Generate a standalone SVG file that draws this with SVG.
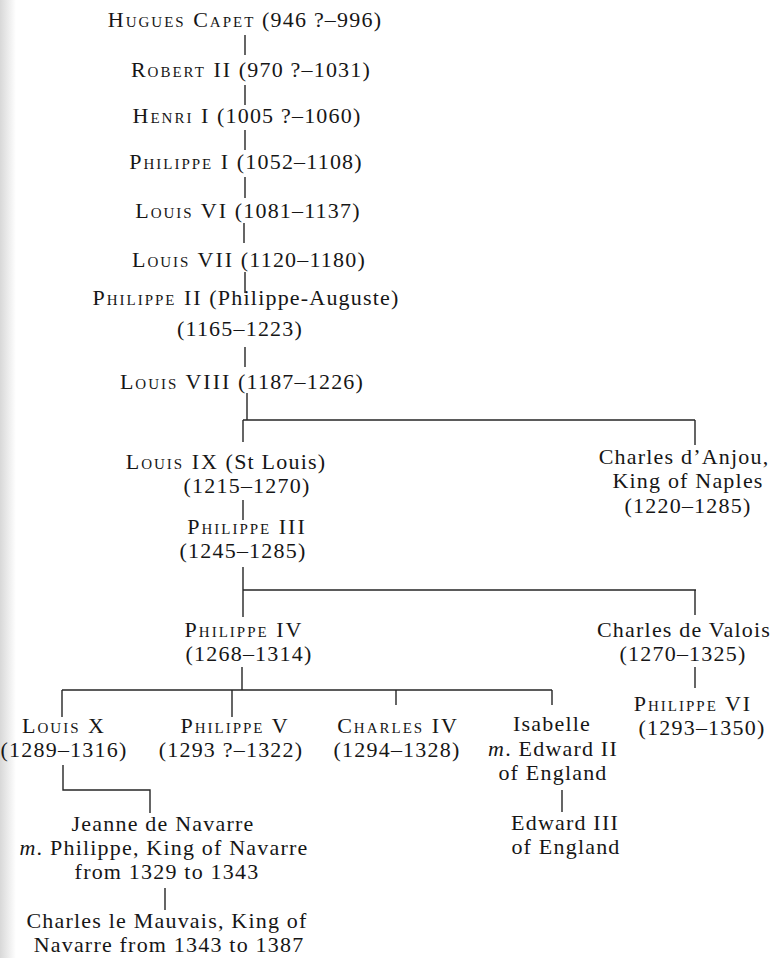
<svg xmlns="http://www.w3.org/2000/svg" width="778" height="958" viewBox="0 0 778 958">
<style>
.t{font-family:"Liberation Serif","Times New Roman",serif;font-size:22px;fill:#161616;text-anchor:middle;letter-spacing:1.2px}
.sc{font-variant:small-caps;letter-spacing:2px}
.i{font-style:italic}
#connectors path{stroke:#262626;stroke-width:1.4;fill:none}
</style>
<defs>
<linearGradient id="edge" x1="0" y1="0" x2="1" y2="0">
<stop offset="0" stop-color="#d8d8d8"/>
<stop offset="1" stop-color="#ffffff"/>
</linearGradient>
</defs>
<rect width="778" height="958" fill="#fff"/>
<rect width="16" height="958" fill="url(#edge)"/>
<g id="connectors">
<path d="M245 35V55M245 85V105M245 130V150M245 177V198M244 223V243M245 272V293M245 347V367"/>
<path d="M247 393V420M243 420H695M243 420V442M695 420V445"/>
<path d="M243 500V520M243 567V590M243 590H696M243 590V617M695 590V615M695 667V688"/>
<path d="M242 667V690M62 690H552M62 690V717M232 690V717M396 690V705M552 690V705"/>
<path d="M63 765V790H150V813M165 888V910M562 790V812"/>
</g>
<g id="hugues"><text class="t" x="245" y="27"><tspan class="sc">Hugues Capet</tspan> (946 ?–996)</text></g>
<g id="robert2"><text class="t" x="251" y="77"><tspan class="sc">Robert II</tspan> (970 ?–1031)</text></g>
<g id="henri1"><text class="t" x="247" y="123"><tspan class="sc">Henri I</tspan> (1005 ?–1060)</text></g>
<g id="philippe1"><text class="t" x="246" y="169"><tspan class="sc">Philippe I</tspan> (1052–1108)</text></g>
<g id="louis6"><text class="t" x="248" y="218"><tspan class="sc">Louis VI</tspan> (1081–1137)</text></g>
<g id="louis7"><text class="t" x="249" y="267"><tspan class="sc">Louis VII</tspan> (1120–1180)</text></g>
<g id="philippe2"><text class="t" x="246" y="305"><tspan class="sc">Philippe II</tspan> (Philippe-Auguste)</text><text class="t" x="240" y="336">(1165–1223)</text></g>
<g id="louis8"><text class="t" x="242" y="389"><tspan class="sc">Louis VIII</tspan> (1187–1226)</text></g>
<g id="louis9"><text class="t" x="226" y="469"><tspan class="sc">Louis IX</tspan> (St Louis)</text><text class="t" x="247" y="493">(1215–1270)</text></g>
<g id="charlesanjou"><text class="t" x="684" y="464">Charles d’Anjou,</text><text class="t" x="688" y="488">King of Naples</text><text class="t" x="688" y="513">(1220–1285)</text></g>
<g id="philippe3"><text class="t" x="247" y="534"><tspan class="sc">Philippe III</tspan></text><text class="t" x="243" y="558">(1245–1285)</text></g>
<g id="philippe4"><text class="t" x="244" y="637"><tspan class="sc">Philippe IV</tspan></text><text class="t" x="249" y="661">(1268–1314)</text></g>
<g id="charlesvalois"><text class="t" x="684" y="637">Charles de Valois</text><text class="t" x="683" y="661">(1270–1325)</text></g>
<g id="philippe6"><text class="t" x="693" y="711"><tspan class="sc">Philippe VI</tspan></text><text class="t" x="702" y="735">(1293–1350)</text></g>
<g id="louis10"><text class="t" x="64" y="733"><tspan class="sc">Louis X</tspan></text><text class="t" x="64" y="757">(1289–1316)</text></g>
<g id="philippe5"><text class="t" x="235" y="733"><tspan class="sc">Philippe V</tspan></text><text class="t" x="231" y="757">(1293 ?–1322)</text></g>
<g id="charles4"><text class="t" x="398" y="733"><tspan class="sc">Charles IV</tspan></text><text class="t" x="397" y="757">(1294–1328)</text></g>
<g id="isabelle"><text class="t" x="552" y="731">Isabelle</text><text class="t" x="553" y="756"><tspan class="i">m</tspan>. Edward II</text><text class="t" x="553" y="780">of England</text></g>
<g id="edward3"><text class="t" x="565" y="830">Edward III</text><text class="t" x="566" y="854">of England</text></g>
<g id="jeanne"><text class="t" x="163" y="831">Jeanne de Navarre</text><text class="t" x="164" y="855"><tspan class="i">m</tspan>. Philippe, King of Navarre</text><text class="t" x="167" y="879">from 1329 to 1343</text></g>
<g id="charlesmauvais"><text class="t" x="167" y="928">Charles le Mauvais, King of</text><text class="t" x="169" y="952">Navarre from 1343 to 1387</text></g>
</svg>
